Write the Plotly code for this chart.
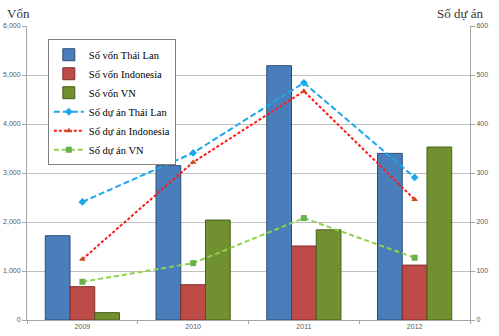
import plotly.graph_objects as go

years = ["2009", "2010", "2011", "2012"]
von_thailan = [1720, 3150, 5190, 3400]
von_indonesia = [680, 720, 1510, 1120]
von_vn = [150, 2040, 1840, 3530]
duan_thailan = [241, 341, 484, 291]
duan_indonesia = [124, 322, 467, 246]
duan_vn = [78, 116, 208, 127]

left_ticks = [0, 1000, 2000, 3000, 4000, 5000, 6000]
left_labels = ["0", "1,000", "2,000", "3,000", "4,000", "5,000", "6,000"]
right_ticks = [0, 100, 200, 300, 400, 500, 600]

fig = go.Figure()
bar_specs = [
    ("Số vốn Thái Lan", von_thailan, "#4a7ebb", "#2c4d75"),
    ("Số vốn Indonesia", von_indonesia, "#be4b48", "#7f2f2d"),
    ("Số vốn VN", von_vn, "#71902f", "#4a5f1e"),
]
for name, vals, col, line in bar_specs:
    fig.add_trace(go.Bar(x=years, y=vals, name=name, marker=dict(color=col, line=dict(color=line, width=1))))

line_specs = [
    ("Số dự án Thái Lan", duan_thailan, "#1aa7ec", "diamond", "#1aa7ec", "6px,3px"),
    ("Số dự án Indonesia", duan_indonesia, "#ff1a1a", "triangle-up", "#c8501c", "3px,2px"),
    ("Số dự án VN", duan_vn, "#8fd14f", "square", "#6ab04c", "5px,3px"),
]
for name, vals, col, sym, mcol, dash in line_specs:
    fig.add_trace(go.Scatter(x=years, y=vals, name=name, yaxis="y2", mode="lines+markers",
                             line=dict(color=col, width=2, dash=dash),
                             marker=dict(symbol=sym, size=6, color=mcol)))

tickfont = dict(family="Liberation Sans, Arial", size=7, color="#595959")
fig.update_layout(
    width=499, height=336,
    margin=dict(l=27, r=29, t=26, b=16),
    plot_bgcolor="white", paper_bgcolor="white",
    barmode="group", bargap=0.33, bargroupgap=0,
    showlegend=True,
    legend=dict(x=0.047, y=0.955, xanchor="left", yanchor="top",
                bgcolor="white", bordercolor="#7f7f7f", borderwidth=1,
                font=dict(family="Liberation Serif, Times New Roman", size=10.5, color="#000"),
                tracegroupgap=0, itemwidth=30),
    xaxis=dict(type="category", showline=True, linecolor="#a6a6a6", ticks="outside",
               tickson="boundaries", ticklen=3, tickcolor="#a6a6a6", tickfont=tickfont,
               showgrid=False, automargin=False),
    yaxis=dict(range=[0, 6000], tickvals=left_ticks, ticktext=left_labels,
               showline=True, linecolor="#a6a6a6", ticks="outside", ticklen=4,
               tickcolor="#a6a6a6", gridcolor="#c0c0c0", tickfont=tickfont, zeroline=False,
               automargin=False),
    yaxis2=dict(range=[0, 600], tickvals=right_ticks, overlaying="y", side="right",
                showline=True, linecolor="#a6a6a6", ticks="outside", ticklen=4,
                tickcolor="#a6a6a6", showgrid=False, tickfont=tickfont, zeroline=False,
                automargin=False),
    annotations=[
        dict(text="Vốn", xref="paper", yref="paper", x=-0.05, y=1, yshift=3, xanchor="left", yanchor="bottom",
             showarrow=False, font=dict(family="Liberation Serif, Times New Roman", size=13, color="#333")),
        dict(text="Số dự án", xref="paper", yref="paper", x=1.035, y=1, yshift=3, xanchor="right", yanchor="bottom",
             showarrow=False, font=dict(family="Liberation Serif, Times New Roman", size=13, color="#333")),
    ],
)
fig.write_html("out.html")
